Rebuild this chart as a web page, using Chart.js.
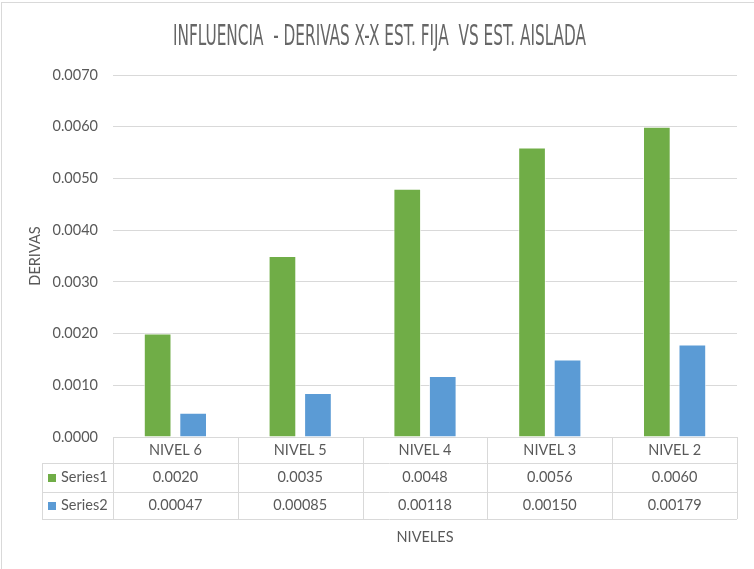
<!DOCTYPE html>
<html>
<head>
<meta charset="utf-8">
<title>Derivas X-X</title>
<script src="https://cdn.jsdelivr.net/npm/chart.js@4.4.1/dist/chart.umd.min.js"></script>
<style>
  html, body { margin: 0; padding: 0; background: #fff; }
  canvas { display: block; }
</style>
</head>
<body>
<canvas id="derivas" width="754" height="569"></canvas>
<script>
// niveles y derivas por tipo de estructura
const niveles = ['NIVEL 6', 'NIVEL 5', 'NIVEL 4', 'NIVEL 3', 'NIVEL 2'];
const series1 = [0.0020, 0.0035, 0.0048, 0.0056, 0.0060];
const series2 = [0.00047, 0.00085, 0.00118, 0.00150, 0.00179];
const nombresSeries = ['Series1', 'Series2'];
const decimalesSeries = [4, 5];
const yTicks = [0, 0.001, 0.002, 0.003, 0.004, 0.005, 0.006, 0.007];

const titulo = 'INFLUENCIA  - DERIVAS X-X EST. FIJA  VS EST. AISLADA';
const verde = '#70AD47';
const azul = '#5B9BD5';
const gris = '#595959';
const linea = '#D9D9D9';
const fuente = 'Lato, "Open Sans", sans-serif';
const tam = 14.5;

Chart.defaults.font.family = fuente;
Chart.defaults.font.size = tam;
Chart.defaults.color = gris;

const px = v => Math.round(v) + 0.5;

// marco, título y tabla de datos bajo el eje x
const tablaDatos = {
  id: 'tablaDatos',
  beforeDraw(chart) {
    const ctx = chart.ctx;
    ctx.save();
    ctx.strokeStyle = linea;
    ctx.lineWidth = 1;
    ctx.strokeRect(1.5, 2.5, chart.width + 20, chart.height + 20);

    ctx.font = '29px "Liberation Sans Narrow", "DejaVu Sans Condensed", sans-serif';
    const ancho = ctx.measureText(titulo).width;
    ctx.translate(379.5, 44.5);
    ctx.scale(413 / ancho, 1);
    ctx.fillStyle = '#666666';
    ctx.textAlign = 'center';
    ctx.textBaseline = 'alphabetic';
    ctx.fillText(titulo, 0, 0);
    ctx.restore();
  },
  afterDraw(chart) {
    const { ctx, chartArea } = chart;
    const x = chart.scales.x;
    const top = chartArea.bottom;
    const filas = [top, top + 26, top + 55, top + 82];
    const izq = chartArea.left, der = chartArea.right, leyIzq = 42;
    const datos = [series1, series2];
    const colores = [verde, azul];

    ctx.save();
    ctx.strokeStyle = linea;
    ctx.lineWidth = 1;
    ctx.beginPath();
    ctx.moveTo(izq, px(filas[0])); ctx.lineTo(der, px(filas[0]));
    for (let i = 1; i < filas.length; i++) {
      ctx.moveTo(leyIzq, px(filas[i])); ctx.lineTo(der, px(filas[i]));
    }
    for (let i = 0; i <= niveles.length; i++) {
      const bx = px(x.getPixelForValue(i - 0.5));
      ctx.moveTo(bx, filas[0]); ctx.lineTo(bx, filas[3]);
    }
    ctx.moveTo(px(leyIzq), filas[1]); ctx.lineTo(px(leyIzq), filas[3]);
    ctx.stroke();

    ctx.font = tam + 'px ' + fuente;
    ctx.textBaseline = 'middle';
    for (let s = 0; s < datos.length; s++) {
      const cy = (filas[s + 1] + filas[s + 2]) / 2;
      ctx.fillStyle = colores[s];
      ctx.fillRect(48, Math.round(cy) - 4, 8, 8);
      ctx.fillStyle = gris;
      ctx.textAlign = 'left';
      ctx.fillText(nombresSeries[s], 61, cy);
      ctx.textAlign = 'center';
      datos[s].forEach((v, i) => {
        ctx.fillText(v.toFixed(decimalesSeries[s]), x.getPixelForValue(i), cy);
      });
    }
    ctx.restore();
  }
};

new Chart(document.getElementById('derivas'), {
  type: 'bar',
  data: {
    labels: niveles,
    datasets: [
      { label: nombresSeries[0], data: series1, backgroundColor: verde },
      { label: nombresSeries[1], data: series2, backgroundColor: azul }
    ]
  },
  options: {
    responsive: false,
    devicePixelRatio: 1,
    animation: false,
    categoryPercentage: 0.569,
    barPercentage: 0.78,
    borderColor: 'rgba(255,255,255,0.7)',
    borderWidth: 1,
    layout: { padding: { top: 75, right: 17, bottom: 0, left: 0 } },
    plugins: {
      legend: { display: false },
      tooltip: { enabled: false }
    },
    scales: {
      x: {
        grid: { display: false, drawTicks: false },
        border: { display: false },
        ticks: { padding: 5, color: gris },
        title: { display: true, text: 'NIVELES', color: gris, padding: { top: 0, bottom: 23 } },
        afterFit(scale) { scale.height = 132; }
      },
      y: {
        min: 0,
        max: 0.007,
        afterBuildTicks(scale) { scale.ticks = yTicks.map(v => ({ value: v })); },
        ticks: { padding: 15, color: gris, callback: v => v.toFixed(4) },
        grid: { color: linea, drawTicks: false },
        border: { display: false },
        title: { display: true, text: 'DERIVAS', color: gris, padding: { top: 27, bottom: 0 } },
        afterFit(scale) { scale.width = 113; }
      }
    }
  },
  plugins: [tablaDatos]
});
</script>
</body>
</html>
